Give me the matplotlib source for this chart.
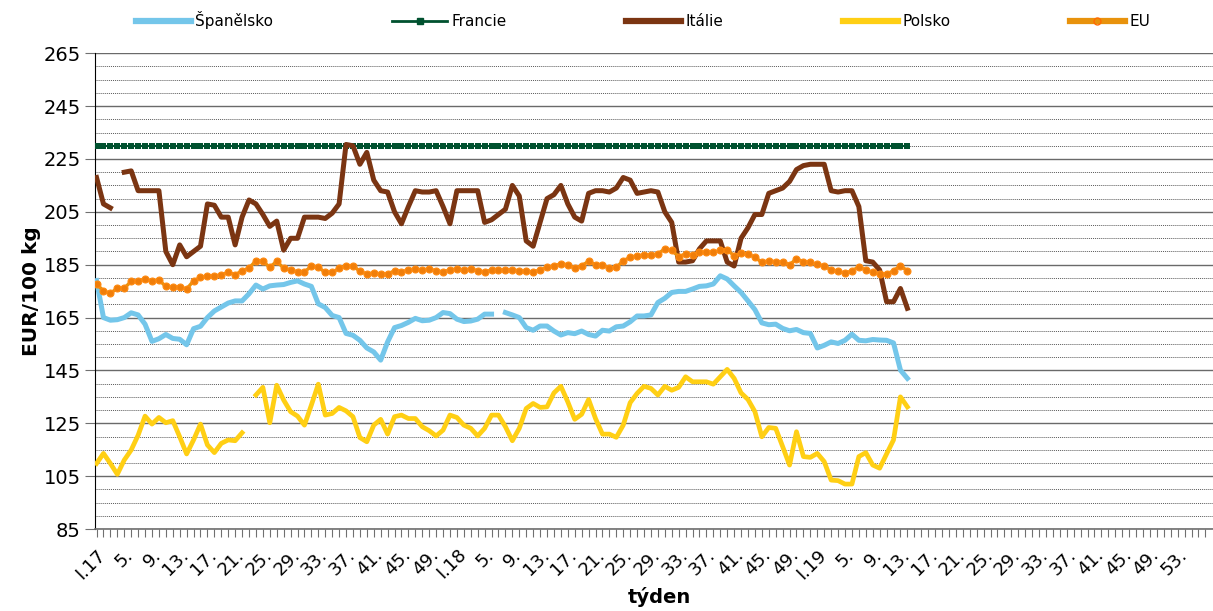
import numpy as np
import matplotlib
matplotlib.use("Agg")
import matplotlib.pyplot as plt
from matplotlib.lines import Line2D
from matplotlib.ticker import MultipleLocator

plt.rcParams.update({
    "font.family": "DejaVu Sans",
    "axes.spines.top": False,
    "axes.spines.right": False,
})

na = np.nan

# weeks: 2017 (52), 2018 (52), 2019 (53) -> tick labels every 4th week
week_labels = []
for year, n in [("17", 52), ("18", 52), ("19", 53)]:
    for w in range(1, n + 1):
        week_labels.append(f"I.{year}" if w == 1 else f"{w}.")
n_cats = 161

spanelsko = [179, 165, 164, 164.2, 165, 166.8, 166, 162.5, 156, 157,
             158.6, 157.1, 156.8, 154.7, 160.8, 161.7, 165, 167.5, 169, 170.5,
             171.3, 171.3, 174, 177.3, 175.8, 177, 177.3, 177.5, 178.3, 178.9,
             177.7, 176.8, 170.2, 168.8, 165.8, 165, 159, 158.3, 156.4, 153.5,
             152, 148.9, 155.8, 161.2, 162, 163.2, 164.7, 163.8, 164, 165,
             166.9, 166.5, 164.4, 163.5, 163.7, 164.4, 166.3, 166.3, na, 166.9,
             166, 165, 161.2, 160.2, 161.8, 161.8, 159.9, 158.4, 159.3, 158.9,
             159.9, 158.6, 158, 160.2, 159.9, 161.5, 161.8, 163.4, 165.6, 165.6,
             166, 170.7, 172.3, 174.5, 174.9, 174.9, 175.8, 176.8, 177, 177.7,
             180.8, 179.6, 177, 174.5, 171.3, 168, 163, 162.3, 162.5, 160.9,
             160, 160.5, 159.3, 159, 153.5, 154.5, 155.8, 155.2, 156.4, 158.7,
             156.4, 156.2, 156.7, 156.5, 156.4, 155.4, 145.1, 142]

francie = [230] * 118

italie = [218, 208, 206.5, na, 220, 220.5, 213, 213, 213, 213,
          190, 185, 192.5, 188, 190, 192, 208, 207.5, 203, 203,
          192.5, 203, 209.5, 208, 204, 199.5, 201.5, 190.5, 195, 195,
          203, 203, 203, 202.5, 204.5, 208, 230.5, 230, 223, 227.5,
          217, 213, 212.5, 205, 200.5, 207, 213, 212.5, 212.5, 213,
          207, 200.5, 213, 213, 213, 213, 201, 202, 204, 206,
          215, 211, 194, 192, 201, 210, 211.5, 215, 208, 203,
          201.5, 212, 213, 213, 212.5, 214, 218, 217, 212, 212.5,
          213, 212.5, 205, 201, 186, 186, 186.5, 191, 194, 194,
          194, 186, 184.5, 195, 199, 204, 204, 212, 213, 214,
          216.5, 221, 222.5, 223, 223, 223, 213, 212.5, 213, 213,
          207, 186.5, 186, 183, 171, 171, 176, 168.5]

polsko = [109.8, 113.6, 109.8, 105.7, 111.1, 114.9, 120.5, 127.7, 124.7, 127.2,
          125.2, 126, 119.9, 113.4, 118.7, 124.7, 116.8, 113.9, 117.4, 118.7,
          118.4, 121.4, na, 135.7, 138.6, 125.2, 139.4, 133.8, 129.4, 127.7,
          124.3, 131.9, 139.8, 128.1, 128.7, 131, 129.7, 127.5, 119.6, 118,
          124.3, 126.5, 120.9, 127.5, 128.1, 126.8, 126.8, 123.7, 122.2, 120.2,
          122.4, 128.1, 127.2, 124.3, 123.1, 120.2, 123.1, 128.1, 128.1, 123.7,
          118.4, 123.1, 130.6, 132.5, 131, 131.2, 136.5, 139, 133.1, 126.5,
          128.4, 134, 126.8, 120.9, 120.9, 119.7, 124.3, 132.8, 136.3, 139,
          138.2, 135.7, 139, 137.5, 138.6, 142.6, 140.7, 140.7, 140.7, 139.8,
          142.6, 145.4, 142, 136.5, 134, 129.4, 119.9, 123.4, 123.1, 116.2,
          109.2, 121.8, 112.4, 112.1, 113.6, 110.5, 103.5, 103.3, 102, 102,
          112.4, 113.9, 109.2, 108, 113.4, 118.7, 135, 131.2]

eu = [177.7, 175.1, 174.2, 176.1, 176.1, 178.7, 178.9, 179.6, 178.9, 179.2,
      176.8, 176.4, 176.6, 175.8, 178.9, 180.2, 180.7, 180.7, 181.2, 182.1,
      181.2, 182.7, 183.7, 186.5, 186.3, 184, 186.3, 183.7, 183, 182.3,
      182.3, 184.4, 184, 182.1, 182.1, 183.6, 184.6, 184.6, 182.5, 181.5,
      181.9, 181.5, 181.5, 182.7, 182.3, 183, 183.4, 183, 183.4, 182.7,
      182.3, 183, 183.4, 183, 183.4, 182.7, 182.3, 183, 183, 183,
      183, 182.7, 182.5, 182.3, 183, 184, 184.6, 185.3, 185, 183.6,
      184.6, 186.3, 185, 185, 183.6, 184, 186.5, 187.8, 188.4, 188.7,
      188.7, 189.1, 191, 190.4, 188.1, 189.1, 188.8, 189.7, 189.7, 189.7,
      190.4, 190.6, 188.4, 189.3, 189.1, 187.8, 185.9, 186.5, 186.1, 186.1,
      185, 187.2, 186.1, 185.9, 185.1, 184.6, 183, 182.5, 181.8, 182.7,
      184.2, 183, 182.1, 181.5, 181.5, 182.7, 184.6, 182.7]

series_names = ["Španělsko", "Francie", "Itálie", "Polsko", "EU"]
colors = ["#74C6EA", "#00512F", "#7B3512", "#FFCF14", "#E8920C"]

fig = plt.figure(figsize=(12.13, 6.11), dpi=100)
ax = fig.add_axes([0.0781, 0.1342, 0.9219, 0.7786])

x = np.arange(118)
ax.plot(x, spanelsko, color=colors[0], lw=3.6, zorder=3)
ax.plot(x, francie, color=colors[1], lw=1.5, marker="s", markersize=4.2,
        markeredgewidth=0, zorder=3)
ax.plot(x, italie, color=colors[2], lw=3.6, zorder=4)
ax.plot(x, polsko, color=colors[3], lw=3.4, zorder=3)
ax.plot(x, eu, color=colors[4], lw=2.4, marker="o", markersize=5,
        markerfacecolor="#F07E0A", markeredgecolor="#FF8A10",
        markeredgewidth=0.8, zorder=5)

ax.set_xlim(-0.26, 161.1)
ax.set_ylim(85, 265)
ax.yaxis.set_major_locator(MultipleLocator(20))
ax.yaxis.set_minor_locator(MultipleLocator(5))
ax.set_yticks(np.arange(85, 266, 20))
ax.grid(axis="y", which="major", color="#6a6a6a", lw=1.0)
ax.grid(axis="y", which="minor", color="#5a5a5a", lw=0.7, linestyle=(0, (1, 1)))
ax.set_axisbelow(True)
ax.tick_params(axis="y", which="major", length=7, color="#707070",
               labelsize=14, pad=3)
ax.tick_params(axis="y", which="minor", length=0)

ax.set_xticks(np.arange(n_cats))
labels = [week_labels[i] if (i % 4 == 0 and i < len(week_labels)) else ""
          for i in range(n_cats)]
ax.set_xticklabels(labels, rotation=45, ha="right", rotation_mode="anchor",
                   fontsize=13)
ax.tick_params(axis="x", length=6, color="#707070", pad=6)

ax.spines["left"].set_color("black")
ax.spines["bottom"].set_color("#707070")
ax.spines["bottom"].set_linewidth(1.2)

ax.set_ylabel("EUR/100 kg", fontsize=14.5, fontweight="bold", labelpad=2)
ax.set_xlabel("týden", fontsize=14, fontweight="bold")
ax.xaxis.set_label_coords(0.505, -0.122)

handles = [
    Line2D([], [], color=colors[0], lw=4.5),
    Line2D([], [], color=colors[1], lw=2, marker="s", markersize=4),
    Line2D([], [], color=colors[2], lw=4.5),
    Line2D([], [], color=colors[3], lw=4.5),
    Line2D([], [], color=colors[4], lw=4.5, marker="o", markersize=5,
           markerfacecolor="none", markeredgecolor="#FF6A00"),
]
fig.legend(handles, series_names, loc="center", ncol=5, frameon=False,
           bbox_to_anchor=(643 / 1213, 1 - 20 / 611), fontsize=11,
           handlelength=3.6, handletextpad=0.3, columnspacing=7.8)

fig.savefig("out.png", dpi=100)
